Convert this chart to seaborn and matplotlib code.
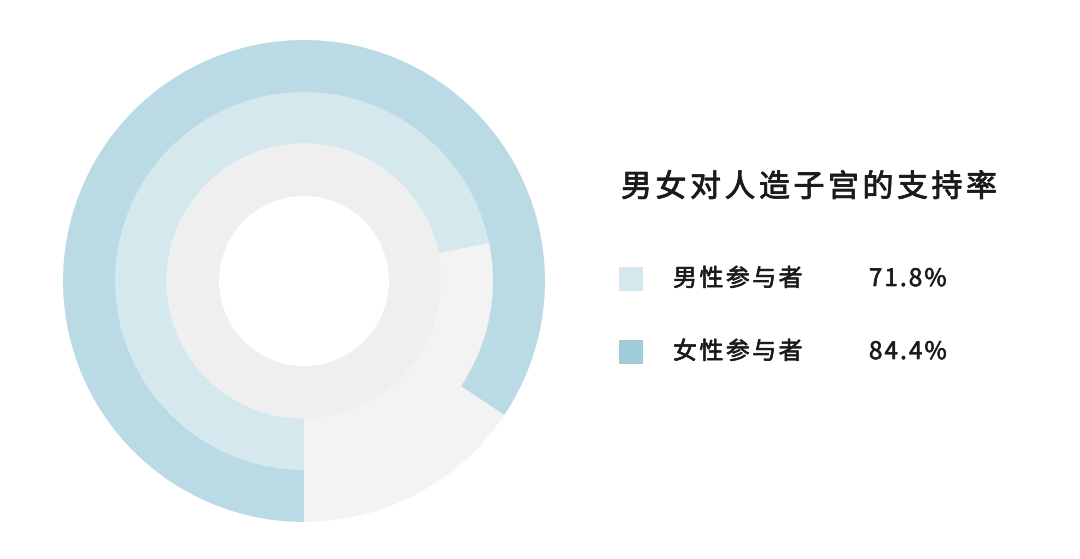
import matplotlib
matplotlib.use("Agg")
import matplotlib.pyplot as plt
import matplotlib.patheffects as pe
from matplotlib.patches import Rectangle
import seaborn as sns

# ---- data ----
groups = ["男性参与者", "女性参与者"]
support = [71.8, 84.4]          # percent
value_labels = ["71.8%", "84.4%"]
title = "男女对人造子宫的支持率"

# ---- style ----
sns.set_theme(style="white")
plt.rcParams["font.family"] = ["Noto Sans CJK SC", "DejaVu Sans"]

ring_colors = ["#d5e8ee", "#badbe5"]      # male (middle), female (outer)
legend_colors = ["#d5e8ee", "#a0cbd9"]
rest_color = "#f3f3f3"
inner_color = "#efefef"

W, H, DPI = 1080, 559, 100
fig = plt.figure(figsize=(W / DPI, H / DPI), dpi=DPI)
fig.patch.set_facecolor("white")

# donut axes: centre (304, 281) px, radius 241 px
cx, cy, R = 304, 281, 241
ax = fig.add_axes([(cx - R) / W, (H - cy - R) / H, 2 * R / W, 2 * R / H])
ax.set_facecolor("white")

radii = [0.786, 1.0]       # male ring, female ring outer radii
width = 0.216
for val, col, r in zip(support, ring_colors, radii):
    ax.pie([val, 100 - val], radius=r, colors=[col, rest_color],
           startangle=-90, counterclock=False,
           wedgeprops=dict(width=width, linewidth=0))
# inner full gray ring
ax.pie([100], radius=0.57, colors=[inner_color], startangle=-90,
       wedgeprops=dict(width=0.217, linewidth=0))
ax.set_xlim(-1, 1)
ax.set_ylim(-1, 1)
ax.set_aspect("equal")
ax.axis("off")

renderer = fig.canvas.get_renderer()


def spaced_text(x_px, y_px, s, size, tracking, color="#1a1a1a", thicken=0.45):
    """Draw text char by char with extra tracking (pixels)."""
    x = x_px
    for ch in s:
        t = fig.text(x / W, (H - y_px) / H, ch, fontsize=size, color=color,
                     ha="left", va="center",
                     path_effects=[pe.withStroke(linewidth=thicken, foreground=color)])
        bb = t.get_window_extent(renderer)
        x += bb.width + tracking


# title
spaced_text(621, 188, title, 22.3, 3.5, thicken=0.6)

# legend rows
rows_y = [279, 352]
for name, lab, col, y in zip(groups, value_labels, legend_colors, rows_y):
    fig.patches.append(Rectangle(((619) / W, (H - y - 12) / H), 24 / W, 24 / H,
                                 transform=fig.transFigure, facecolor=col,
                                 edgecolor="none"))
    spaced_text(673, y, name, 17.3, 2.4)
    spaced_text(869, y, lab, 17.3, 2.2)

fig.savefig("out.png", dpi=DPI, facecolor="white")
